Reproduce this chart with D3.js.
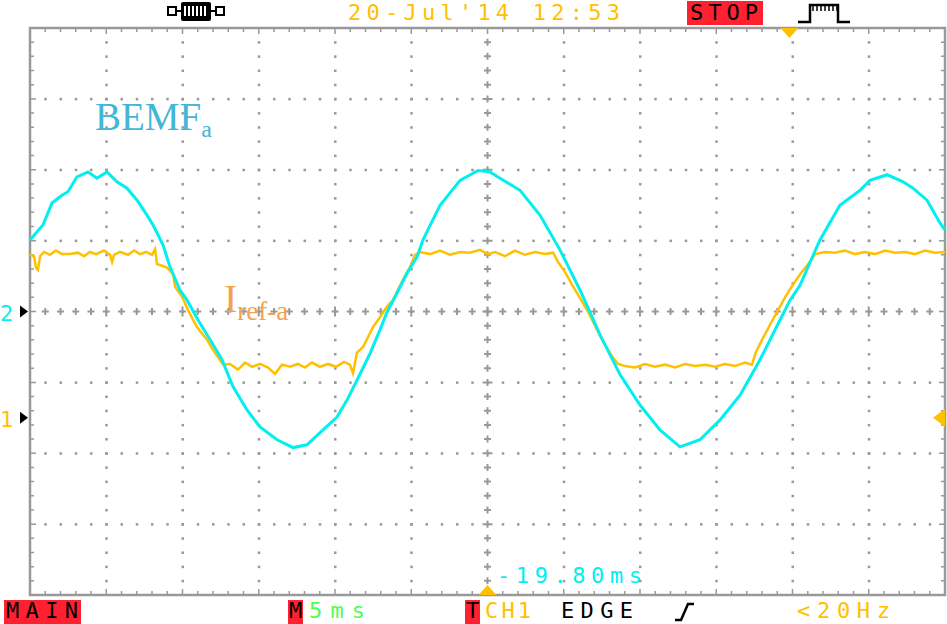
<!DOCTYPE html>
<html lang="en">
  <head>
    <meta charset="UTF-8" />
    <title>BEMF and Iref scope capture</title>
    <style>
      body { margin: 0; background: #fff; }
      svg { display: block; }
      .scope-text { font-family: "DejaVu Sans Mono", monospace; font-size: 22px; }
      .label { font-family: "Liberation Serif", "Times New Roman", serif; }
    </style>
  </head>
  <body>
    <script src="https://cdn.jsdelivr.net/npm/d3@7"></script>
    <script>

      // time in ms (5 ms/div, 12 div), amplitude in divisions
      var bemfTime = [0, 0.13, 0.85, 1.44, 2.10, 2.49, 3.08, 3.80, 4.39, 5.05, 5.70, 6.36, 7.02, 7.67, 8.07, 8.72,
        9.18, 9.84, 10.30, 11.02, 11.93, 12.59, 13.31, 14.23, 15.08, 16.20, 17.25, 18.16, 19.02, 20.13, 20.79,
        21.44, 22.30, 22.95, 23.41, 24.07, 24.72, 25.38, 25.77, 26.89, 28.20, 29.38, 30.16, 30.82, 32.13, 33.44,
        34.75, 36.07, 36.72, 37.38, 38.69, 40.00, 41.31, 42.62, 43.93, 45.25, 46.56, 47.87, 49.18, 49.84, 50.49,
        51.80, 53.11, 54.43, 55.08, 56.20, 57.25, 57.90, 58.82, 59.67, 60];
      var bemfDiv = [1.01, 1.04, 1.22, 1.53, 1.64, 1.69, 1.90, 1.97, 1.88, 1.97, 1.83, 1.74, 1.57, 1.36, 1.22, 0.94,
        0.63, 0.30, 0.16, -0.12, -0.44, -0.68, -1.06, -1.39, -1.63, -1.81, -1.92, -1.88, -1.71, -1.49, -1.25,
        -0.97, -0.59, -0.26, -0.01, 0.26, 0.54, 0.77, 1.01, 1.50, 1.85, 1.99, 1.97, 1.88, 1.71, 1.36,
        0.87, 0.30, -0.01, -0.33, -0.89, -1.32, -1.67, -1.91, -1.81, -1.53, -1.18, -0.68, -0.12, 0.16, 0.37,
        1.01, 1.50, 1.71, 1.85, 1.93, 1.83, 1.74, 1.57, 1.25, 1.15];

      // Iref-a, divisions above its own ground marker (ch1)
      var irefTime = [0, 0.26, 0.39, 0.52, 0.66, 0.92, 1.31, 1.70, 2.10, 2.62, 3.15, 3.54, 3.93, 4.33, 4.85, 5.25,
        5.38, 5.51, 5.90, 6.43, 6.82, 7.21, 7.61, 8.00, 8.20, 8.33, 8.98, 9.38, 9.51, 9.97, 10.36, 10.95, 11.61,
        12.00, 12.66, 13.11, 13.64, 14.10, 14.56, 15.08, 15.61, 16.07, 16.52, 17.05, 17.57, 18.03, 18.49, 19.02,
        19.54, 20.07, 20.59, 20.98, 21.18, 21.44, 21.84, 22.49, 22.95, 23.41, 23.80, 24.46, 24.92, 25.25, 25.57,
        26.23, 26.89, 27.54, 28.20, 28.85, 29.51, 30.03, 30.49, 31.15, 31.80, 32.46, 33.11, 33.77, 34.30, 34.62,
        35.08, 35.54, 36.07, 36.59, 37.11, 37.70, 38.16, 38.56, 39.02, 39.67, 40.33, 40.98, 41.64, 42.30, 42.95,
        43.61, 44.26, 44.92, 45.57, 46.23, 46.89, 47.34, 47.61, 48.00, 48.52, 49.05, 49.57, 50.10, 50.62, 51.15,
        51.48, 52.13, 52.79, 53.44, 54.10, 54.75, 55.41, 56.07, 56.72, 57.38, 58.03, 58.69, 59.34, 60];
      var irefDiv = [2.30, 2.28, 2.12, 2.09, 2.28, 2.34, 2.30, 2.36, 2.31, 2.31, 2.33, 2.28, 2.34, 2.31, 2.36, 2.30,
        2.20, 2.30, 2.34, 2.30, 2.36, 2.31, 2.34, 2.30, 2.38, 2.17, 2.12, 2.03, 1.85, 1.71, 1.52, 1.28, 1.10,
        0.96, 0.75, 0.76, 0.68, 0.78, 0.72, 0.76, 0.71, 0.62, 0.75, 0.72, 0.76, 0.71, 0.78, 0.72,
        0.76, 0.72, 0.79, 0.75, 0.63, 0.92, 1.00, 1.28, 1.42, 1.57, 1.66, 1.95, 2.13, 2.30, 2.34,
        2.31, 2.36, 2.30, 2.34, 2.33, 2.37, 2.31, 2.34, 2.28, 2.36, 2.30, 2.34, 2.31, 2.33, 2.20,
        2.06, 1.88, 1.69, 1.50, 1.27, 1.03, 0.87, 0.76, 0.73, 0.71, 0.76, 0.72, 0.75, 0.71, 0.76,
        0.73, 0.75, 0.72, 0.76, 0.73, 0.78, 0.75, 0.93, 1.10, 1.31, 1.52, 1.72, 1.90, 2.06, 2.20,
        2.31, 2.34, 2.33, 2.36, 2.31, 2.34, 2.31, 2.36, 2.33, 2.34, 2.31, 2.36, 2.33, 2.34];

      var ch1Offset = -1.5;   // ch1 ground marker, divisions
      var ch2Offset = 0;
      var trigTime = 49.8;    // ms, top marker
      var trigLevel = -1.5;   // div, right marker

      var headerDate = "20-Jul'14 12:53";
      var delayText = "-19.80ms";
      var timebaseText = "5ms";
      var trigText = ["CH1", "EDGE", "<20Hz"];

      var w = 947, h = 624;
      var frame = { left: 30, right: 945, top: 28, bottom: 595 };

      var svg = d3.select("body").append("svg")
                  .attr("width", w)
                  .attr("height", h);

      var xScale = d3.scaleLinear().domain([0, 60]).range([frame.left, frame.right]);
      var yScale = d3.scaleLinear().domain([-4, 4]).range([frame.bottom, frame.top]);

      var grid = svg.append("g").attr("fill", "#999").attr("stroke", "none");
      var minorX = d3.range(0, 60.01, 1);   // 5 minor ticks per 5 ms division
      var minorY = d3.range(-4, 4.01, 0.2);
      var majorX = d3.range(5, 60, 5);
      var majorY = d3.range(-3, 4, 1);

      // dotted graticule
      majorY.filter(function(d){ return d != 0; }).forEach(function(v){
        grid.selectAll(null).data(minorX.slice(1, -1)).enter().append("rect")
            .attr("x", function(d){ return xScale(d) - 1; })
            .attr("y", yScale(v) - 1)
            .attr("width", 2.5).attr("height", 2.5);
      });
      majorX.filter(function(d){ return d != 30; }).forEach(function(t){
        grid.selectAll(null).data(minorY.slice(1, -1)).enter().append("rect")
            .attr("x", xScale(t) - 1)
            .attr("y", function(d){ return yScale(d) - 1; })
            .attr("width", 2.5).attr("height", 2.5);
      });

      // center crosshair with + marks
      var cross = svg.append("g").attr("stroke", "#999").attr("stroke-width", 2);
      cross.selectAll(null).data(minorX.slice(1, -1)).enter().append("path")
           .attr("d", function(d){
             var x = xScale(d), y = yScale(0), s = (d % 5 == 0) ? 5 : 3.5;
             return "M" + (x - 3.5) + "," + y + "H" + (x + 3.5) + "M" + x + "," + (y - s) + "V" + (y + s);
           });
      cross.selectAll(null).data(minorY.slice(1, -1)).enter().append("path")
           .attr("d", function(d){
             var x = xScale(30), y = yScale(d);
             var s = (Math.abs(d - Math.round(d)) < 0.01) ? 5 : 3.5;
             return "M" + (x - s) + "," + y + "H" + (x + s) + "M" + x + "," + (y - 3.5) + "V" + (y + 3.5);
           });

      // frame and edge ticks
      var edge = svg.append("g").attr("stroke", "#999").attr("stroke-width", 1.5);
      edge.selectAll(null).data(minorX.slice(1, -1)).enter().append("path")
          .attr("d", function(d){
            var x = xScale(d), l = (d % 5 == 0) ? 6 : 4;
            return "M" + x + "," + frame.top + "v" + l + "M" + x + "," + frame.bottom + "v" + (-l);
          });
      edge.selectAll(null).data(minorY.slice(1, -1)).enter().append("path")
          .attr("d", function(d){
            var y = yScale(d), l = (Math.abs(d - Math.round(d)) < 0.01) ? 6 : 4;
            return "M" + frame.left + "," + y + "h" + l + "M" + frame.right + "," + y + "h" + (-l);
          });
      svg.append("rect")
         .attr("x", frame.left).attr("y", frame.top)
         .attr("width", frame.right - frame.left).attr("height", frame.bottom - frame.top)
         .attr("fill", "none").attr("stroke", "#999").attr("stroke-width", 2.5);

      // traces
      var bemf = bemfTime.map(function(t, i){ return { t: t, v: bemfDiv[i] + ch2Offset }; });
      var iref = irefTime.map(function(t, i){ return { t: t, v: irefDiv[i] + ch1Offset }; });

      var line = d3.line()
                   .x(function(d){ return xScale(d.t); })
                   .y(function(d){ return yScale(d.v); });

      svg.append("path").datum(iref)
         .attr("d", line).attr("fill", "none")
         .attr("stroke", "#ffc000").attr("stroke-width", 2.5);

      svg.append("path").datum(bemf)
         .attr("d", line).attr("fill", "none")
         .attr("stroke", "#00f0f0").attr("stroke-width", 3);

      // trace labels
      var bl = svg.append("text").attr("class", "label")
                  .attr("x", 95).attr("y", 130).attr("fill", "#42b6d4");
      bl.append("tspan").attr("font-size", 39).text("BEMF");
      bl.append("tspan").attr("font-size", 24).attr("dy", 7).text("a");

      var il = svg.append("text").attr("class", "label")
                  .attr("x", 224).attr("y", 312).attr("fill", "#f2a24e");
      il.append("tspan").attr("font-size", 40).text("I");
      il.append("tspan").attr("font-size", 27).attr("dy", 8).text("ref-a");

      // channel markers on the left
      svg.append("text").attr("class", "scope-text").attr("font-size", 24)
         .attr("x", 0).attr("y", yScale(ch2Offset) + 9).attr("fill", "#00f0f0").text("2");
      svg.append("text").attr("class", "scope-text").attr("font-size", 24)
         .attr("x", 0).attr("y", yScale(ch1Offset) + 9).attr("fill", "#ffc000").text("1");
      [ch2Offset, ch1Offset].forEach(function(v){
        var y = yScale(v);
        svg.append("path")
           .attr("d", "M20," + (y - 6) + "L28," + y + "L20," + (y + 6) + "Z")
           .attr("fill", "#000");
      });

      // trigger markers
      var ty = yScale(trigLevel);
      svg.append("path")
         .attr("d", "M945," + (ty - 9) + "L933," + ty + "L945," + (ty + 9) + "Z")
         .attr("fill", "#ffc000");
      var tx = xScale(trigTime);
      svg.append("path")
         .attr("d", "M" + (tx - 9) + "," + frame.top + "L" + (tx + 9) + "," + frame.top + "L" + tx + "," + (frame.top + 10) + "Z")
         .attr("fill", "#ffc000");
      svg.append("path")
         .attr("d", "M" + (xScale(30) - 9) + "," + frame.bottom + "L" + (xScale(30) + 9) + "," + frame.bottom + "L" + xScale(30) + "," + (frame.bottom - 10) + "Z")
         .attr("fill", "#ffc000");

      svg.append("text").attr("class", "scope-text")
         .attr("x", 497).attr("y", 583).attr("fill", "#00f0f0")
         .attr("textLength", 145).attr("lengthAdjust", "spacing")
         .text(delayText);

      // header
      var icon = svg.append("g");
      icon.append("rect").attr("x", 168).attr("y", 7).attr("width", 8).attr("height", 8)
          .attr("fill", "none").attr("stroke", "#000").attr("stroke-width", 2);
      icon.append("rect").attr("x", 216).attr("y", 7).attr("width", 8).attr("height", 8)
          .attr("fill", "none").attr("stroke", "#000").attr("stroke-width", 2);
      icon.append("path").attr("d", "M176,11H181M211,11H216").attr("stroke", "#000").attr("stroke-width", 2);
      icon.append("rect").attr("x", 181).attr("y", 2).attr("width", 30).attr("height", 19).attr("rx", 2)
          .attr("fill", "#000");
      icon.selectAll(null).data(d3.range(6)).enter().append("rect")
          .attr("x", function(d){ return 184 + d * 4; }).attr("y", 6)
          .attr("width", 2).attr("height", 10).attr("fill", "#fff");

      svg.append("text").attr("class", "scope-text")
         .attr("x", 348).attr("y", 20).attr("fill", "#ffc000")
         .attr("textLength", 272).attr("lengthAdjust", "spacing")
         .text(headerDate);

      svg.append("rect").attr("x", 687).attr("y", 1).attr("width", 76).attr("height", 24).attr("fill", "#ff2030");
      svg.append("text").attr("class", "scope-text")
         .attr("x", 690).attr("y", 20).attr("fill", "#000")
         .attr("textLength", 68).attr("lengthAdjust", "spacing").text("STOP");

      var trig = svg.append("g").attr("stroke", "#000").attr("fill", "none");
      trig.append("path").attr("d", "M798,22H810V5H838V22H850").attr("stroke-width", 2.5);
      trig.selectAll(null).data(d3.range(7)).enter().append("path")
          .attr("d", function(d){ return "M" + (813 + d * 4) + ",5V11"; })
          .attr("stroke-width", 1.5);

      // footer
      var fy = 618;
      var foot = svg.append("g");
      foot.append("rect").attr("x", 4).attr("y", 600).attr("width", 77).attr("height", 24).attr("fill", "#ff2030");
      foot.append("text").attr("class", "scope-text")
          .attr("x", 6).attr("y", fy).attr("fill", "#000")
          .attr("textLength", 72).attr("lengthAdjust", "spacing").text("MAIN");

      foot.append("rect").attr("x", 288).attr("y", 600).attr("width", 15).attr("height", 24).attr("fill", "#ff2030");
      foot.append("text").attr("class", "scope-text")
          .attr("x", 289).attr("y", fy).attr("fill", "#000").text("M");
      foot.append("text").attr("class", "scope-text")
          .attr("x", 309).attr("y", fy).attr("fill", "#4cff4c")
          .attr("textLength", 56).attr("lengthAdjust", "spacing").text(timebaseText);

      foot.append("rect").attr("x", 465).attr("y", 600).attr("width", 15).attr("height", 24).attr("fill", "#ff2030");
      foot.append("text").attr("class", "scope-text")
          .attr("x", 466).attr("y", fy).attr("fill", "#000").text("T");
      foot.append("text").attr("class", "scope-text")
          .attr("x", 485).attr("y", fy).attr("fill", "#ffc000")
          .attr("textLength", 46).attr("lengthAdjust", "spacing").text(trigText[0]);
      foot.append("text").attr("class", "scope-text")
          .attr("x", 561).attr("y", fy).attr("fill", "#000")
          .attr("textLength", 72).attr("lengthAdjust", "spacing").text(trigText[1]);
      foot.append("path").attr("d", "M675,620H681L688,604H694")
          .attr("fill", "none").attr("stroke", "#000").attr("stroke-width", 2.5);
      foot.append("text").attr("class", "scope-text")
          .attr("x", 797).attr("y", fy).attr("fill", "#ffc000")
          .attr("textLength", 93).attr("lengthAdjust", "spacing").text(trigText[2]);

    </script>
  </body>
</html>
